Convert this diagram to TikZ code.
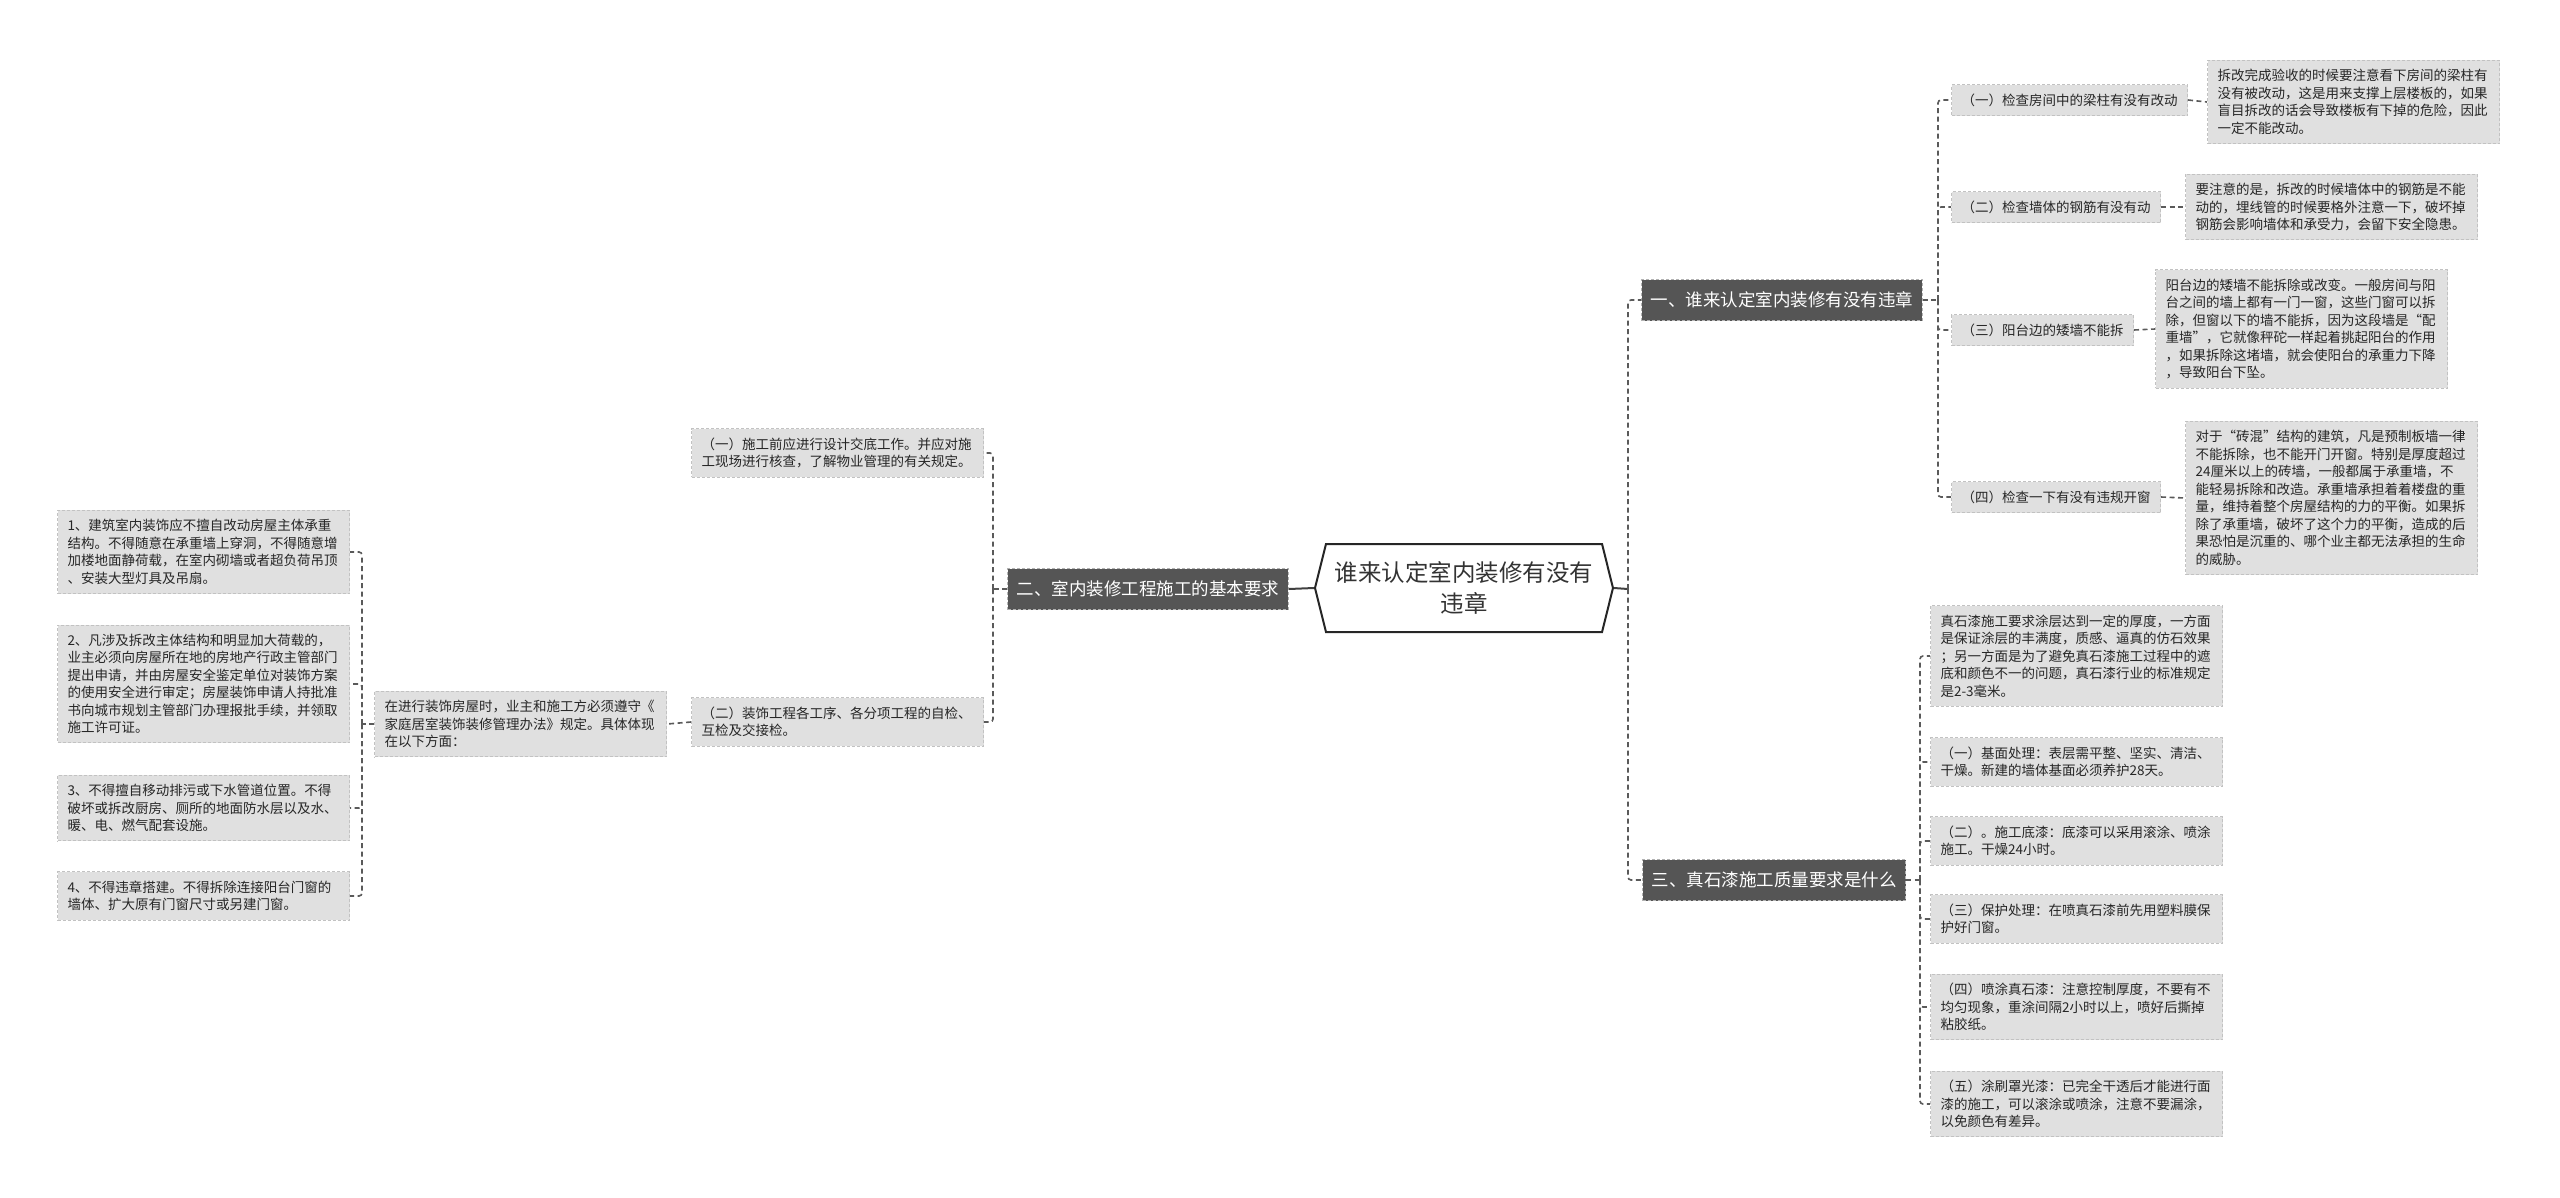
\documentclass[tikz,border=0pt]{standalone}
\usepackage{fontspec}
\setmainfont{Noto Sans CJK SC}
\usetikzlibrary{shapes.symbols}
\definecolor{branchgray}{HTML}{555555}
\definecolor{leafgray}{HTML}{E0E0E0}
\definecolor{edgegray}{HTML}{C2C2C2}
\definecolor{linkgray}{HTML}{5A5A5A}
\definecolor{textgray}{HTML}{333333}

\begin{document}
\begin{tikzpicture}[x=1pt, y=-1pt,
  rootnode/.style={shape=signal, signal to=east and west, signal pointer angle=152, draw=black!85, line width=2pt, fill=white, text=textgray, align=center, minimum width=298pt, minimum height=88pt, inner sep=4pt, font=\fontsize{23.5}{31}\selectfont},
  branchnode/.style={draw=gray!60, dash pattern=on 3pt off 2pt, line width=1pt, fill=branchgray, text=white, minimum height=41pt, inner xsep=9pt, font=\fontsize{17.5}{21}\selectfont},
  itemnode/.style={draw=edgegray, dash pattern=on 3pt off 2pt, line width=1pt, fill=leafgray, text=black!85, minimum height=31pt, inner xsep=10pt, anchor=west, font=\fontsize{13.5}{17.5}\selectfont},
  leafnode/.style={itemnode, text width=272pt, align=left, inner ysep=9pt},
  link/.style={draw=linkgray, line width=1.6pt, dash pattern=on 5pt off 3.5pt, rounded corners=3pt},
  rootlink/.style={draw=black!75, line width=2pt}
]
\useasboundingbox (0,0) rectangle (2560,1197);

% centre
\node[rootnode] (root) at (1464,588) {谁来认定室内装修有没有\\违章};

% main branches
\node[branchnode] (b1) at (1782,300) {一、谁来认定室内装修有没有违章};
\node[branchnode] (b2) at (1148,589) {二、室内装修工程施工的基本要求};
\node[branchnode] (b3) at (1774,880) {三、真石漆施工质量要求是什么};

% branch one
\node[itemnode] (c11) at (1951,100) {（一）检查房间中的梁柱有没有改动};
\node[itemnode] (c12) at (1951,207) {（二）检查墙体的钢筋有没有动};
\node[itemnode] (c13) at (1951,330) {（三）阳台边的矮墙不能拆};
\node[itemnode] (c14) at (1951,497) {（四）检查一下有没有违规开窗};

\node[leafnode] (l11) at (2207,102) {拆改完成验收的时候要注意看下房间的梁柱有\\没有被改动，这是用来支撑上层楼板的，如果\\盲目拆改的话会导致楼板有下掉的危险，因此\\一定不能改动。};
\node[leafnode] (l12) at (2185,207) {要注意的是，拆改的时候墙体中的钢筋是不能\\动的，埋线管的时候要格外注意一下，破坏掉\\钢筋会影响墙体和承受力，会留下安全隐患。};
\node[leafnode] (l13) at (2155,329) {阳台边的矮墙不能拆除或改变。一般房间与阳\\台之间的墙上都有一门一窗，这些门窗可以拆\\除，但窗以下的墙不能拆，因为这段墙是“配\\重墙”，它就像秤砣一样起着挑起阳台的作用\\，如果拆除这堵墙，就会使阳台的承重力下降\\，导致阳台下坠。};
\node[leafnode] (l14) at (2185,498) {对于“砖混”结构的建筑，凡是预制板墙一律\\不能拆除，也不能开门开窗。特别是厚度超过\\24厘米以上的砖墙，一般都属于承重墙，不\\能轻易拆除和改造。承重墙承担着着楼盘的重\\量，维持着整个房屋结构的力的平衡。如果拆\\除了承重墙，破坏了这个力的平衡，造成的后\\果恐怕是沉重的、哪个业主都无法承担的生命\\的威胁。};

% branch three
\node[leafnode] (d0) at (1930,656) {真石漆施工要求涂层达到一定的厚度，一方面\\是保证涂层的丰满度，质感、逼真的仿石效果\\；另一方面是为了避免真石漆施工过程中的遮\\底和颜色不一的问题，真石漆行业的标准规定\\是2-3毫米。};
\node[leafnode] (d1) at (1930,762) {（一）基面处理：表层需平整、坚实、清洁、\\干燥。新建的墙体基面必须养护28天。};
\node[leafnode] (d2) at (1930,841) {（二）。施工底漆：底漆可以采用滚涂、喷涂\\施工。干燥24小时。};
\node[leafnode] (d3) at (1930,919) {（三）保护处理：在喷真石漆前先用塑料膜保\\护好门窗。};
\node[leafnode] (d4) at (1930,1007) {（四）喷涂真石漆：注意控制厚度，不要有不\\均匀现象，重涂间隔2小时以上，喷好后撕掉\\粘胶纸。};
\node[leafnode] (d5) at (1930,1104) {（五）涂刷罩光漆：已完全干透后才能进行面\\漆的施工，可以滚涂或喷涂，注意不要漏涂，\\以免颜色有差异。};

% branch two
\node[leafnode] (e1) at (691,453) {（一）施工前应进行设计交底工作。并应对施\\工现场进行核查，了解物业管理的有关规定。};
\node[leafnode] (e2) at (691,722) {（二）装饰工程各工序、各分项工程的自检、\\互检及交接检。};
\node[leafnode] (e3) at (374,724) {在进行装饰房屋时，业主和施工方必须遵守《\\家庭居室装饰装修管理办法》规定。具体体现\\在以下方面：};

\node[leafnode] (f1) at (57,552) {1、建筑室内装饰应不擅自改动房屋主体承重\\结构。不得随意在承重墙上穿洞，不得随意增\\加楼地面静荷载，在室内砌墙或者超负荷吊顶\\、安装大型灯具及吊扇。};
\node[leafnode] (f2) at (57,684) {2、凡涉及拆改主体结构和明显加大荷载的，\\业主必须向房屋所在地的房地产行政主管部门\\提出申请，并由房屋安全鉴定单位对装饰方案\\的使用安全进行审定；房屋装饰申请人持批准\\书向城市规划主管部门办理报批手续，并领取\\施工许可证。};
\node[leafnode] (f3) at (57,808) {3、不得擅自移动排污或下水管道位置。不得\\破坏或拆改厨房、厕所的地面防水层以及水、\\暖、电、燃气配套设施。};
\node[leafnode] (f4) at (57,896) {4、不得违章搭建。不得拆除连接阳台门窗的\\墙体、扩大原有门窗尺寸或另建门窗。};

% trunk points
\coordinate (rt) at (1628,589);
\coordinate (t1) at (1938,300);
\coordinate (t3) at (1920,880);
\coordinate (t2) at (993,589);
\coordinate (t4) at (362,724);

% connectors
\draw[rootlink] (root.east) -- (rt);
\draw[rootlink] (root.west) -- (b2.east);
\draw[link] (rt) |- (b1.west);
\draw[link] (rt) |- (b3.west);

\draw[link] (b1.east) -- (t1);
\foreach \n in {c11,c12,c13,c14}
  \draw[link] (t1) |- (\n.west);
\draw[link] (c11.east) -- (l11.west);
\draw[link] (c12.east) -- (l12.west);
\draw[link] (c13.east) -- (l13.west);
\draw[link] (c14.east) -- (l14.west);

\draw[link] (b3.east) -- (t3);
\foreach \n in {d0,d1,d2,d3,d4,d5}
  \draw[link] (t3) |- (\n.west);

\draw[link] (b2.west) -- (t2);
\draw[link] (t2) |- (e1.east);
\draw[link] (t2) |- (e2.east);
\draw[link] (e2.west) -- (e3.east);
\draw[link] (e3.west) -- (t4);
\foreach \n in {f1,f2,f3,f4}
  \draw[link] (t4) |- (\n.east);
\end{tikzpicture}
\end{document}
